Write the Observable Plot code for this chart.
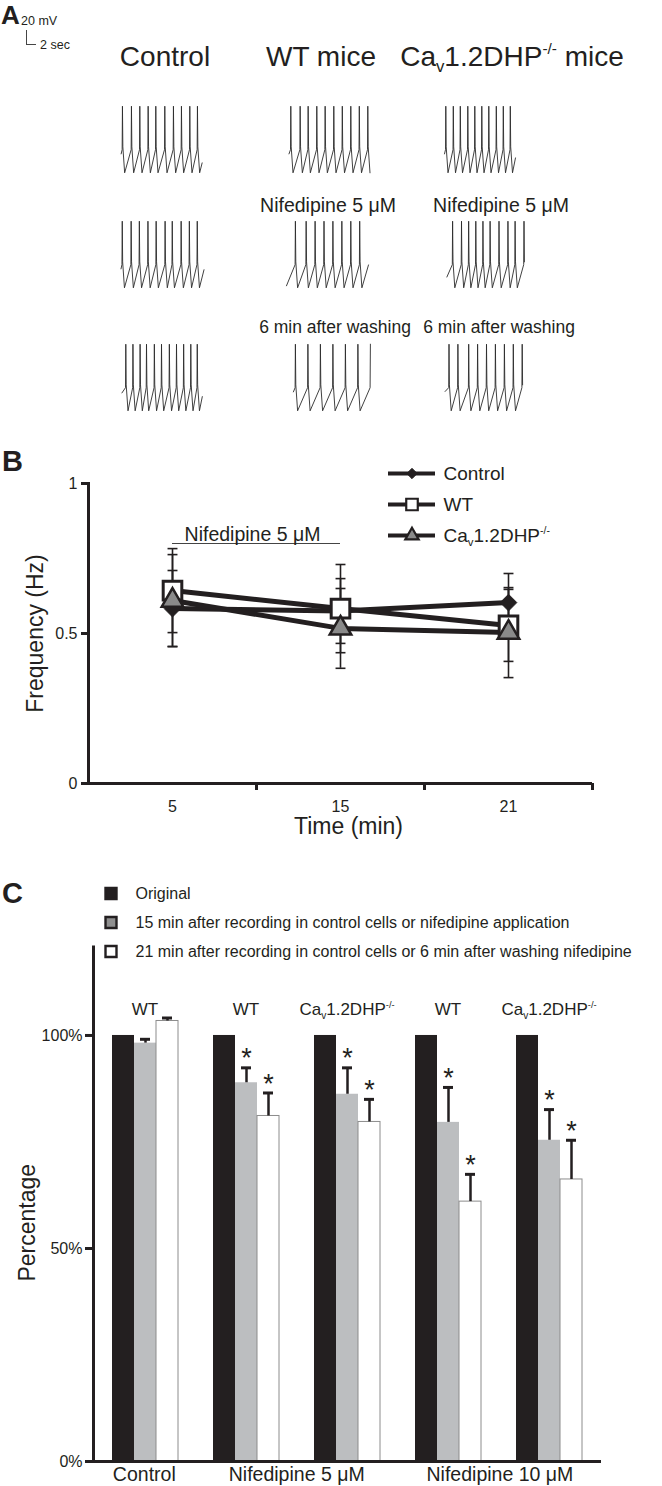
<!DOCTYPE html>
<html><head><meta charset="utf-8">
<script src="https://cdn.jsdelivr.net/npm/d3@7"></script>
<script src="https://cdn.jsdelivr.net/npm/@observablehq/plot@0.6"></script>
<style>
html,body{margin:0;padding:0;background:#fff;}
#page{position:relative;width:662px;height:1486px;overflow:hidden;background:#fff;}
#page svg{position:absolute;background:transparent !important;max-width:none !important;overflow:visible;}
</style></head>
<body><div id="page"></div>
<script>
// ================= DATA =================
// Panel A – spike times (s), plus start / end of each trace (s)
const traceColumns = ["Control", "WT mice", "Caᵥ1.2DHP⁻/⁻ mice"];
const traceRowLabels = ["", "Nifedipine 5 μM", "6 min after washing"];
const traceStart = [[0.13, 0.5, 0.2], [0.1, 0.0, 0.68], [0.29, 1.38, 0.32]];
const traceEnd   = [[16.33, 16.7, 14.4], [16.7, 16.4, 16.26], [16.36, 16.8, 15.9]];
const spikesRow1 = [
  [0.33, 2.13, 3.8, 5.47, 7.0, 8.8, 10.53, 12.13, 13.8, 15.33],
  [0.8, 2.67, 4.27, 6.0, 7.67, 9.4, 11.1, 12.8, 14.5, 16.2],
  [0.4, 1.9, 3.3, 4.8, 6.2, 7.6, 9.0, 10.5, 11.9, 13.3]
];
const spikesRow2 = [
  [0.29, 2.07, 3.71, 5.43, 7.07, 8.86, 10.29, 12.07, 13.71, 15.29],
  [1.72, 3.87, 5.66, 7.44, 9.22, 11.01, 12.8, 14.58],
  [1.76, 3.54, 4.97, 6.4, 7.83, 9.26, 11.04, 12.83, 14.26, 16.04]
];
const spikesRow3 = [
  [1.0, 2.43, 3.86, 5.14, 6.71, 8.14, 9.71, 11.14, 12.57, 14.0, 15.29],
  [1.72, 4.22, 6.72, 9.22, 11.72, 14.22, 16.72],
  [1.04, 2.82, 4.98, 6.76, 8.54, 10.32, 12.12, 13.9, 15.68]
];
const spikeRows = [spikesRow1, spikesRow2, spikesRow3];

// Panel B – firing frequency (Hz) ± SEM
const timePoints = ["5", "15", "21"];
const freqSeries = ["Control", "WT", "Caᵥ1.2DHP⁻/⁻"];
const freqControl = [0.583, 0.575, 0.603];
const freqWT      = [0.643, 0.583, 0.527];
const freqCav     = [0.610, 0.517, 0.503];
const semControl  = [0.127, 0.108, 0.097];
const semWT       = [0.140, 0.147, 0.120];
const semCav      = [0.153, 0.133, 0.150];
const freqTicks = [0, 0.5, 1];
const nifedipineBar = {from: "5", to: "15", level: 0.8, label: "Nifedipine 5 μM"};

// Panel C – percentage of original frequency ± SEM
const cGroups    = ["Control WT", "Nif5 WT", "Nif5 Cav", "Nif10 WT", "Nif10 Cav"];
const cCondition = ["Control", "Nifedipine 5 μM", "Nifedipine 5 μM", "Nifedipine 10 μM", "Nifedipine 10 μM"];
const cGenotype  = ["WT", "WT", "Caᵥ1.2DHP⁻/⁻", "WT", "Caᵥ1.2DHP⁻/⁻"];
const cSeries = ["Original",
  "15 min after recording in control cells or nifedipine application",
  "21 min after recording in control cells or 6 min after washing nifedipine"];
const pctOriginal = [100, 100, 100, 100, 100];
const pct15 = [98.2, 88.9, 86.2, 79.6, 75.4];
const sem15 = [0.9, 3.5, 6.2, 8.2, 7.2];
const pct21 = [103.4, 81.1, 79.7, 61.0, 66.2];
const sem21 = [0.7, 5.4, 5.3, 6.4, 9.2];
const sig15 = [false, true, true, true, true];
const sig21 = [false, true, true, true, true];
const pctTicks = [0, 50, 100];

// ================= STYLE / HELPERS =================
const FONT = '"Liberation Sans", Arial, Helvetica, sans-serif';
const INK = "#231f20";
const TICK_FONT = 16;
const baseStyle = {fontFamily: FONT, fontSize: "15px", color: INK, background: "transparent", overflow: "visible"};
const CAV = "Caᵥ1.2DHP⁻/⁻";
const page = document.getElementById("page");
function place(node, left, top) {
  node.style.position = "absolute"; node.style.left = left + "px"; node.style.top = top + "px";
  page.appendChild(node); return node;
}
function writeCav(node, str, px) {
  const rest = str.slice(CAV.length);
  const t = d3.select(node); t.text(null);
  t.append("tspan").text("Ca");
  t.append("tspan").attr("font-size", px * 0.6).attr("dy", px * 0.22).text("v");
  t.append("tspan").attr("dy", -px * 0.22).text("1.2DHP");
  t.append("tspan").attr("font-size", px * 0.55).attr("dy", -px * 0.42).text("-/-");
  if (rest) t.append("tspan").attr("dy", px * 0.42).text(rest);
}
function fixCav(svg, px) {
  d3.select(svg).selectAll("text").each(function () {
    if (this.textContent.startsWith(CAV)) writeCav(this, this.textContent, px);
  });
}

// ================= ANNOTATION TEXT =================
const ann = d3.create("svg").attr("width", 662).attr("height", 1486)
  .style("font-family", FONT).attr("fill", INK);
function addText(str, x, y, size, anchor = "start", weight = "normal") {
  const t = ann.append("text").attr("x", x).attr("y", y).attr("font-size", size)
    .attr("text-anchor", anchor).attr("font-weight", weight);
  if (str.startsWith(CAV)) writeCav(t.node(), str, size); else t.text(str);
}
place(ann.node(), 0, 0);
addText("A", 1, 24, 26, "start", "bold");
addText("B", 2, 471, 29, "start", "bold");
addText("C", 2, 903, 29, "start", "bold");
addText("20 mV", 21, 25, 12.5);
addText("2 sec", 40, 49, 12.5);
const headerX = [165, 321, 512];
traceColumns.forEach((h, i) => addText(h, headerX[i], 66, 28, "middle"));
const rowLabelX = [[0, 328, 501], [0, 335, 499]];
const rowLabelY = [212, 333];
const rowLabelSize = [19.5, 17.5];
[1, 2].forEach((r, k) => [1, 2].forEach(c =>
  addText(traceRowLabels[r], rowLabelX[k][c], rowLabelY[k], rowLabelSize[k], "middle")));

// ================= PANEL A: traces =================
const PX_PER_S = 5, TRACE_SPAN = 18;
const V_PEAK = 30, V_THRESH = -32, V_TROUGH = -65;
function waveform(start, end, spikes) {
  const isi = d3.mean(d3.pairs(spikes, (a, b) => b - a));
  const ramp = dt => V_TROUGH + (V_THRESH - V_TROUGH) * Math.max(0, Math.min(1, dt / (isi - 0.5)));
  const pts = [];
  const lead = spikes[0] - start;
  pts.push({t: start, v: lead > 0.6 ? ramp(isi - lead) : V_THRESH - 6});
  spikes.forEach(s => {
    pts.push({t: s, v: V_THRESH});
    pts.push({t: s + 0.06, v: V_PEAK});
    pts.push({t: s + 0.14, v: V_THRESH + 4});
    pts.push({t: s + 0.5, v: V_TROUGH});
  });
  const last = spikes[spikes.length - 1];
  if (end > last + 0.5) pts.push({t: end, v: ramp(end - last - 0.5)});
  return pts.filter(p => p.t <= end + 1e-9);
}
const rowTops = [105, 220, 343];
const colLefts = [120, 286, 443];
spikeRows.forEach((row, r) => row.forEach((spikes, c) => {
  const pts = waveform(traceStart[r][c], traceEnd[r][c], spikes);
  const svg = Plot.plot({
    width: TRACE_SPAN * PX_PER_S, height: 70,
    marginLeft: 0, marginRight: 0, marginTop: 1, marginBottom: 1,
    x: {domain: [0, TRACE_SPAN], axis: null},
    y: {domain: [-66, 31], axis: null},
    style: baseStyle,
    marks: [Plot.line(pts, {x: "t", y: "v", stroke: "#2b2b2b", strokeWidth: 0.9})]
  });
  place(svg, colLefts[c], rowTops[r] - 1);
}));
// scale bar: 20 mV / 2 sec, same px-per-unit as traces
place(Plot.plot({
  width: 2 * PX_PER_S, height: 20 * (68 / 97),
  marginLeft: 0, marginRight: 0, marginTop: 0, marginBottom: 0,
  x: {domain: [0, 2], axis: null}, y: {domain: [0, 20], axis: null},
  style: baseStyle,
  marks: [Plot.ruleX([0], {stroke: "#444", strokeWidth: 1}), Plot.ruleY([0], {stroke: "#444", strokeWidth: 1})]
}), 26, 30);

// ================= PANEL B =================
const freqRows = [];
[[freqControl, semControl], [freqWT, semWT], [freqCav, semCav]].forEach(([vals, sems], s) =>
  vals.forEach((v, i) => freqRows.push({series: freqSeries[s], time: timePoints[i], value: v, sem: sems[i]})));
const capSymbol = {draw(ctx, size) { const w = Math.sqrt(size) / 2; ctx.moveTo(-w, 0); ctx.lineTo(w, 0); }};
const markerStyle = {
  [freqSeries[0]]: {symbol: "diamond2", r: 7.5, fill: INK, stroke: INK, strokeWidth: 1},
  [freqSeries[1]]: {symbol: "square", r: 10.5, fill: "white", stroke: INK, strokeWidth: 3},
  [freqSeries[2]]: {symbol: "triangle", r: 8, fill: "#8a8a8a", stroke: INK, strokeWidth: 2.5}
};
const bW = 662, bML = 88, bMR = 70;
const bStep = (bW - bML - bMR) / timePoints.length;
const plotB = Plot.plot({
  width: bW, height: 400, marginLeft: bML, marginRight: bMR, marginTop: 43, marginBottom: 57,
  x: {type: "point", domain: timePoints, padding: 0.5, axis: null},
  y: {domain: [0, 1], axis: null},
  style: baseStyle,
  marks: [
    Plot.frame({anchor: "left", stroke: INK, strokeWidth: 3}),
    Plot.ruleY([0], {stroke: INK, strokeWidth: 3}),
    Plot.axisY({ticks: freqTicks, tickFormat: () => "", tickSize: 7, strokeWidth: 3, label: null}),
    Plot.text(freqTicks, {y: d => d, frameAnchor: "left", textAnchor: "end", dx: -11, text: d => String(d), fontSize: TICK_FONT}),
    Plot.text(timePoints, {x: d => d, frameAnchor: "bottom", lineAnchor: "top", dy: 17, text: d => d, fontSize: TICK_FONT}),
    Plot.axisX({tickSize: 7, tickFormat: () => "", strokeWidth: 3, dx: bStep / 2, label: null}),
    Plot.text(["Frequency (Hz)"], {frameAnchor: "left", textAnchor: "middle", rotate: -90, dx: -53, fontSize: 23}),
    Plot.text(["Time (min)"], {frameAnchor: "bottom", lineAnchor: "top", dy: 34, dx: 8, fontSize: 23}),
    Plot.ruleY([nifedipineBar], {y: "level", x1: "from", x2: "to", stroke: "#444", strokeWidth: 1}),
    Plot.text([nifedipineBar], {x: "from", y: "level", text: "label", dx: bStep / 2 - 4, dy: -3, lineAnchor: "bottom", fontSize: 19.5}),
    Plot.ruleX(freqRows, {x: "time", y1: d => d.value - d.sem, y2: d => d.value + d.sem, stroke: INK, strokeWidth: 1.6}),
    Plot.dot(freqRows, {x: "time", y: d => d.value + d.sem, symbol: capSymbol, r: 5.6, stroke: INK, strokeWidth: 1.6}),
    Plot.dot(freqRows, {x: "time", y: d => d.value - d.sem, symbol: capSymbol, r: 5.6, stroke: INK, strokeWidth: 1.6}),
    Plot.line(freqRows, {x: "time", y: "value", z: "series", stroke: INK, strokeWidth: 5, strokeLinejoin: "round"}),
    ...freqSeries.map(s => Plot.dot(freqRows.filter(d => d.series === s), {x: "time", y: "value", ...markerStyle[s]}))
  ]
});
place(plotB, 0, 440);

// legend B
const legendB = Plot.plot({
  width: 270, height: 100, marginLeft: 8, marginRight: 215, marginTop: 17, marginBottom: 20,
  x: {domain: [0, 1], axis: null},
  y: {type: "point", domain: freqSeries, padding: 0, axis: null},
  style: baseStyle,
  marks: [
    Plot.ruleY(freqSeries, {y: d => d, x1: () => 0, x2: () => 1, stroke: INK, strokeWidth: 4}),
    ...freqSeries.map(s => Plot.dot([s], {x: () => 0.5, y: d => d, ...markerStyle[s],
      r: markerStyle[s].r * 0.62, strokeWidth: Math.min(2.2, markerStyle[s].strokeWidth)})),
    Plot.text(freqSeries, {x: () => 1, y: d => d, text: d => d, dx: 8, textAnchor: "start", fontSize: 19})
  ]
});
fixCav(legendB, 19);
place(legendB, 380, 455);

// ================= PANEL C =================
const barRows = cGroups.flatMap((g, i) => [
  {group: g, series: cSeries[0], value: pctOriginal[i]},
  {group: g, series: cSeries[1], value: pct15[i], sem: sem15[i], sig: sig15[i]},
  {group: g, series: cSeries[2], value: pct21[i], sem: sem21[i], sig: sig21[i]}
]);
const barFill = {[cSeries[0]]: INK, [cSeries[1]]: "#bcbec0", [cSeries[2]]: "#ffffff"};
const errRows = barRows.filter(d => d.sem != null);
const starRows = errRows.filter(d => d.sig);
const genotypeRows = cGroups.map((g, i) => ({group: g, genotype: cGenotype[i]}));
const cDims = {width: 662, height: 556, marginLeft: 93, marginRight: 61, marginTop: 15.5, marginBottom: 25};
const plotC = Plot.plot({
  ...cDims,
  fx: {domain: cGroups, paddingInner: 0.335, paddingOuter: 0.1675, axis: null, label: null},
  x: {domain: cSeries, padding: 0, axis: null},
  y: {domain: [0, 121], axis: null},
  color: {type: "identity"},
  style: baseStyle,
  marks: [
    Plot.barY(barRows, {fx: "group", x: "series", y: "value", fill: d => barFill[d.series]}),
    Plot.barY(barRows.filter(d => d.series === cSeries[2]), {fx: "group", x: "series", y: "value", fill: "white", stroke: "#8c8c8c", strokeWidth: 1}),
    Plot.ruleX(errRows, {fx: "group", x: "series", y1: "value", y2: d => d.value + d.sem, stroke: INK, strokeWidth: 2.5}),
    Plot.tickY(errRows, {fx: "group", x: "series", y: d => d.value + d.sem, stroke: INK, strokeWidth: 3, insetLeft: 6, insetRight: 6}),
    Plot.text(starRows, {fx: "group", x: "series", y: d => d.value + d.sem, text: () => "*", fontSize: 27, dy: -9}),
    Plot.text(genotypeRows, {fx: "group", text: "genotype", frameAnchor: "top", dy: 57, fontSize: 17})
  ]
});
fixCav(plotC, 17);
place(plotC, 0, 930);

// axes overlay for panel C (x in group slots)
const conditions = Array.from(new Set(cCondition));
const condLabels = conditions.map(c => ({label: c,
  pos: d3.mean(cCondition.map((cc, i) => cc === c ? i + 0.5 : null).filter(v => v != null))}));
const axesC = Plot.plot({
  ...cDims,
  x: {domain: [0, cGroups.length], axis: null},
  y: {domain: [0, 121], axis: null},
  style: baseStyle,
  marks: [
    Plot.ruleX([0], {stroke: INK, strokeWidth: 3}),
    Plot.ruleY([0], {stroke: INK, strokeWidth: 3}),
    Plot.axisY({ticks: pctTicks, tickFormat: () => "", tickSize: 8, strokeWidth: 3, label: null}),
    Plot.text(pctTicks, {y: d => d, frameAnchor: "left", textAnchor: "end", dx: -11, text: d => d + "%", fontSize: TICK_FONT}),
    Plot.text(condLabels, {x: "pos", text: "label", frameAnchor: "bottom", lineAnchor: "top", dy: 6, fontSize: 19.5}),
    Plot.text(["Percentage"], {frameAnchor: "left", textAnchor: "middle", rotate: -90, dx: -66, dy: 19, fontSize: 23})
  ]
});
place(axesC, 0, 930);

// legend C
const legendC = Plot.plot({
  width: 570, height: 85, marginLeft: 18.5, marginRight: 10, marginTop: 17, marginBottom: 9,
  x: {domain: [0, 1], axis: null},
  y: {type: "point", domain: cSeries, padding: 0, axis: null},
  style: baseStyle,
  marks: [
    Plot.dot(cSeries, {x: () => 0, y: d => d, symbol: "square", r: 6.2,
      fill: d => d === cSeries[0] ? INK : d === cSeries[1] ? "#8f8f8f" : "white", stroke: INK, strokeWidth: 2.4}),
    Plot.text(cSeries, {x: () => 0, y: d => d, text: d => d, dx: 24.5, textAnchor: "start", fontSize: 16})
  ]
});
place(legendC, 92, 875);
</script>
</body></html>
